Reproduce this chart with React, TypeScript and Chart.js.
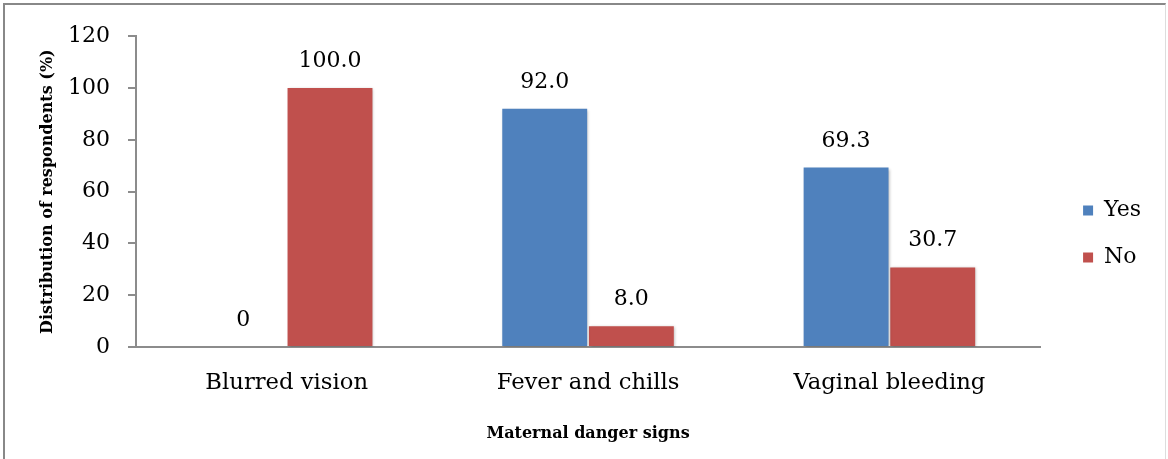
import React, { useEffect, useRef } from "react";
import { Chart, registerables } from "chart.js";

Chart.register(...registerables);

const categories = ["Blurred vision", "Fever and chills", "Vaginal bleeding"];
const yesValues = [0, 92.0, 69.3];
const noValues = [100.0, 8.0, 30.7];
const seriesNames = ["Yes", "No"];
const yTicks = [0, 20, 40, 60, 80, 100, 120];
const yTitle = "Distribution of respondents (%)";
const xTitle = "Maternal danger signs";

const FONT = "'DejaVu Serif', serif";

const shadowPlugin = {
  id: "barShadow",
  beforeDatasetsDraw(chart: any) {
    const ctx = chart.ctx;
    ctx.save();
    ctx.shadowColor = "rgba(0,0,0,0.28)";
    ctx.shadowBlur = 3;
    ctx.shadowOffsetX = 1;
    ctx.shadowOffsetY = 1;
  },
  afterDatasetsDraw(chart: any) {
    chart.ctx.restore();
  },
};

const labelPlugin = {
  id: "valueLabels",
  afterDatasetsDraw(chart: any) {
    const ctx = chart.ctx;
    ctx.save();
    ctx.font = `22px ${FONT}`;
    ctx.fillStyle = "#000";
    ctx.textAlign = "center";
    ctx.textBaseline = "alphabetic";
    chart.data.datasets.forEach((ds: any, di: number) => {
      const meta = chart.getDatasetMeta(di);
      meta.data.forEach((bar: any, i: number) => {
        const v = ds.data[i];
        const txt = v === 0 ? "0" : v.toFixed(1);
        ctx.fillText(txt, bar.x, bar.y - 21);
      });
    });
    ctx.restore();
  },
};

export default function App() {
  const ref = useRef<HTMLCanvasElement>(null);
  useEffect(() => {
    if (!ref.current) return;
    const chart = new Chart(ref.current, {
      type: "bar",
      data: {
        labels: categories,
        datasets: [
          {
            label: seriesNames[0],
            data: yesValues,
            backgroundColor: "#4F81BD",
            barPercentage: 0.98,
            categoryPercentage: 0.575,
          },
          {
            label: seriesNames[1],
            data: noValues,
            backgroundColor: "#C0504D",
            barPercentage: 0.98,
            categoryPercentage: 0.575,
          },
        ],
      },
      options: {
        animation: false,
        responsive: false,
        maintainAspectRatio: false,
        layout: { padding: { top: 26, right: 15, left: 0, bottom: 20 } },
        plugins: {
          legend: {
            position: "right",
            labels: {
              boxWidth: 10,
              boxHeight: 10,
              padding: 25,
              color: "#000",
              font: { family: FONT, size: 22 },
            },
          },
          tooltip: { enabled: false },
        },
        scales: {
          x: {
            grid: { display: false },
            border: { display: true, color: "#8c8c8c", width: 2 },
            ticks: {
              color: "#000",
              padding: 14,
              font: { family: FONT, size: 22.7 },
            },
            title: {
              display: true,
              text: xTitle,
              color: "#000",
              font: { family: FONT, size: 16, weight: "bold" },
              padding: { top: 0, bottom: -6.6 },
            },
            afterFit(s: any) {
              s.height = 90;
            },
          },
          y: {
            min: 0,
            max: 120,
            afterBuildTicks(s: any) {
              s.ticks = yTicks.map((v) => ({ value: v }));
            },
            grid: {
              display: true,
              drawOnChartArea: false,
              drawTicks: true,
              tickLength: 8,
              color: "#8c8c8c",
              lineWidth: 2,
            },
            border: { display: true, color: "#8c8c8c", width: 2 },
            ticks: {
              color: "#000",
              padding: 18,
              font: { family: FONT, size: 22 },
            },
            title: {
              display: true,
              text: yTitle,
              color: "#000",
              font: { family: FONT, size: 16, weight: "bold" },
              padding: { top: 33.4, bottom: 0 },
            },
            afterFit(s: any) {
              s.width = 131;
            },
          },
          gap: {
            position: "right",
            display: true,
            grid: { display: false },
            border: { display: false },
            ticks: { display: false },
            afterFit(s: any) {
              s.width = 18;
            },
          },
        },
      } as any,
      plugins: [shadowPlugin, labelPlugin],
    });
    return () => chart.destroy();
  }, []);

  return (
    <div
      style={{
        position: "fixed",
        left: 3,
        top: 3,
        width: 1163,
        height: 470,
        borderTop: "2px solid #888",
        borderLeft: "2px solid #888",
        borderRight: "1px solid #ddd",
        background: "#fff",
        boxSizing: "border-box",
      }}
    >
      <canvas ref={ref} width={1161} height={452} style={{ display: "block" }} />
    </div>
  );
}
